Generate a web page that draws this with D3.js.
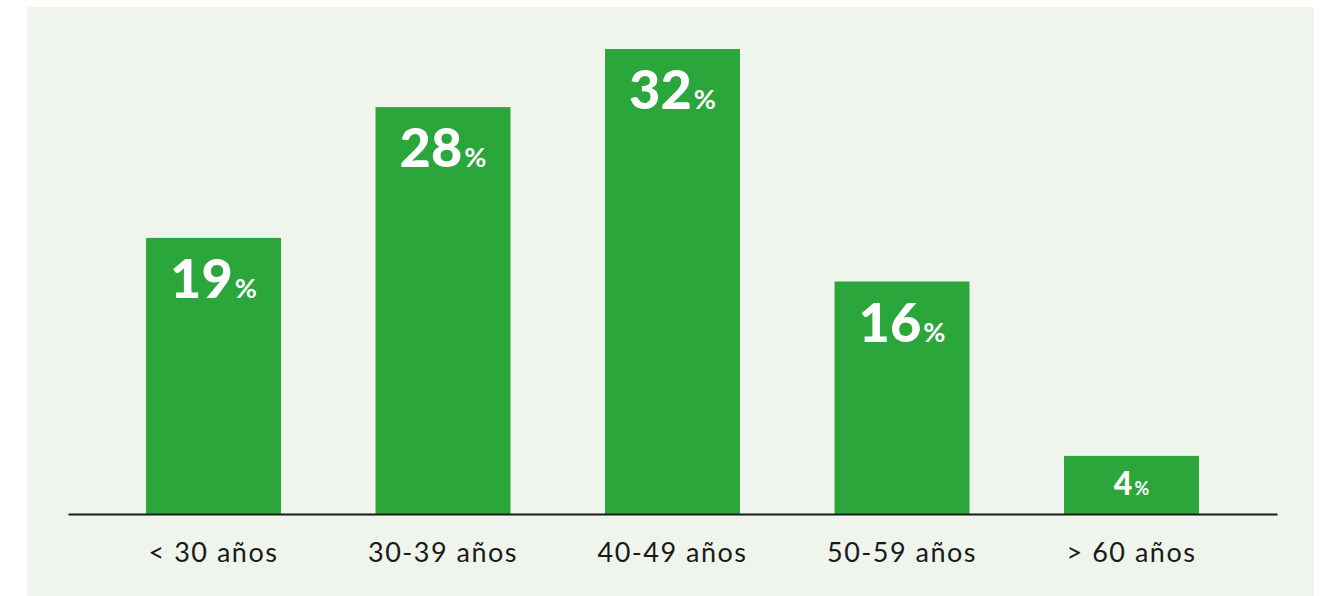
<!DOCTYPE html>
<html>
<head>
<meta charset="utf-8">
<script src="https://cdn.jsdelivr.net/npm/d3@7"></script>
<style>
  body { margin: 0; background: #fff; }
  svg { display: block; }
</style>
</head>
<body>
<svg id="chart" width="1329" height="596"></svg>
<script>
;(function (d3) {
  var categories = ['< 30 años', '30-39 años', '40-49 años', '50-59 años', '> 60 años']
  var values = [19, 28, 32, 16, 4]

  var svg = d3.select('#chart')

  // panel
  svg.append('rect')
    .attr('x', 27).attr('y', 7)
    .attr('width', 1287).attr('height', 589)
    .attr('fill', '#eff4ec')

  var baseY = 514
  var x = d3.scaleBand()
    .domain(categories)
    .range([68, 1277])
    .paddingInner(0.412)
    .paddingOuter(0.34)

  var y = d3.scaleLinear()
    .domain([0, 32])
    .range([baseY, 49])

  var data = categories.map(function (c, i) {
    return {cat: c, v: values[i]}
  })

  svg.selectAll('rect.bar')
    .data(data)
    .enter()
    .append('rect')
    .attr('class', 'bar')
    .attr('x', function (d) { return x(d.cat) })
    .attr('y', function (d) { return y(d.v) })
    .attr('width', x.bandwidth())
    .attr('height', function (d) { return baseY - y(d.v) })
    .attr('fill', '#2aa63b')

  var isSmall = function (d) { return baseY - y(d.v) < 100 }

  var labels = svg.selectAll('text.val')
    .data(data)
    .enter()
    .append('text')
    .attr('class', 'val')
    .attr('x', function (d) { return x(d.cat) + x.bandwidth() / 2 })
    .attr('y', function (d) { return y(d.v) + (isSmall(d) ? 39 : 60) })
    .attr('text-anchor', 'middle')
    .attr('fill', '#fff')
    .style('font-family', 'Lato, sans-serif')
    .style('font-weight', 900)

  labels.append('tspan')
    .style('font-size', function (d) { return (isSmall(d) ? 32 : 54) + 'px' })
    .text(function (d) { return d.v })
  labels.append('tspan')
    .attr('dx', 2)
    .style('font-size', function (d) { return (isSmall(d) ? 18 : 27) + 'px' })
    .style('font-weight', 700)
    .text('%')

  // axis
  var axis = svg.append('g')
    .attr('transform', 'translate(0,' + baseY + ')')
    .call(d3.axisBottom(x).tickSize(0).tickPadding(39))
  axis.select('.domain')
    .attr('stroke', '#1a1a1a')
    .attr('stroke-width', 2)
  axis.selectAll('.tick text')
    .attr('fill', '#1a1a1a')
    .style('font-family', 'Lato, sans-serif')
    .style('font-size', '27px')
    .style('letter-spacing', '1.5px')
    .attr('dy', '0.32em')
})(window.d3)
</script>
</body>
</html>
